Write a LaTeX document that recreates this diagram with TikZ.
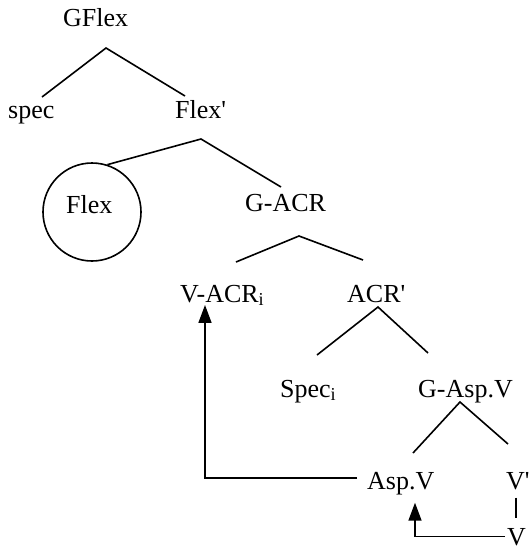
\documentclass[tikz,border=0pt]{standalone}
\usepackage{fontspec}
\setmainfont{Liberation Serif}
\usetikzlibrary{arrows.meta}
\begin{document}
\begin{tikzpicture}[x=1pt,y=-1pt,
  lbl/.style={inner sep=0pt, anchor=base west, font=\fontsize{26}{30}\selectfont},
  edge/.style={line width=1.6pt},
  arr/.style={line width=1.6pt, -{Triangle[length=18pt,width=13pt]}}]
\useasboundingbox (0,0) rectangle (532,550);
% labels
\node[lbl] (gflex) at (63,26) {GFlex};
\node[lbl] (spec) at (8,118) {spec};
\node[lbl] (flexp) at (175,118) {Flex\textquotesingle};
\node[draw, circle, line width=1.6pt, minimum size=98pt, inner sep=0pt] (flexc) at (92,212) {};
\node[lbl] (flex) at (66,213) {Flex};
\node[lbl] (gacr) at (245,211) {G-ACR};
\node[lbl] (vacr) at (180,302) {V-ACR\textsubscript{i}};
\node[lbl] (acrp) at (347,302) {ACR\textquotesingle};
\node[lbl] (speci) at (280,397) {Spec\textsubscript{i}};
\node[lbl] (gaspv) at (418,397) {G-Asp.V};
\node[lbl] (aspv) at (367,489) {Asp.V};
\node[lbl] (vp) at (506,489) {V\textquotesingle};
\node[lbl] (v) at (507,545) {V};
% tree branch points
\coordinate (t1a) at (106,48); \coordinate (t1l) at (42,97); \coordinate (t1r) at (185,96);
\coordinate (t2a) at (201,139); \coordinate (t2r) at (281,187);
\coordinate (t3a) at (299,236); \coordinate (t3l) at (236,262); \coordinate (t3r) at (363,260);
\coordinate (t4a) at (378,307); \coordinate (t4l) at (317,355); \coordinate (t4r) at (428,353);
\coordinate (t5a) at (460,402); \coordinate (t5l) at (413,453); \coordinate (t5r) at (508,444);
\draw[edge] (t1l) -- (t1a) -- (t1r);
\draw[edge] (flexc.72) -- (t2a) -- (t2r);
\draw[edge] (t3l) -- (t3a) -- (t3r);
\draw[edge] (t4l) -- (t4a) -- (t4r);
\draw[edge] (t5l) -- (t5a) -- (t5r);
% V' -- V
\draw[edge] ([xshift=10pt,yshift=-8pt]vp.south west) -- ([xshift=9pt,yshift=10pt]v.north west);
% movement arrows
\draw[arr] ([xshift=-10pt,yshift=5pt]aspv.west) -| ([xshift=25pt,yshift=1pt]vacr.south west);
\draw[arr] ([xshift=-2pt]v.west) -| ([xshift=48pt,yshift=-8pt]aspv.south west);
\end{tikzpicture}
\end{document}
